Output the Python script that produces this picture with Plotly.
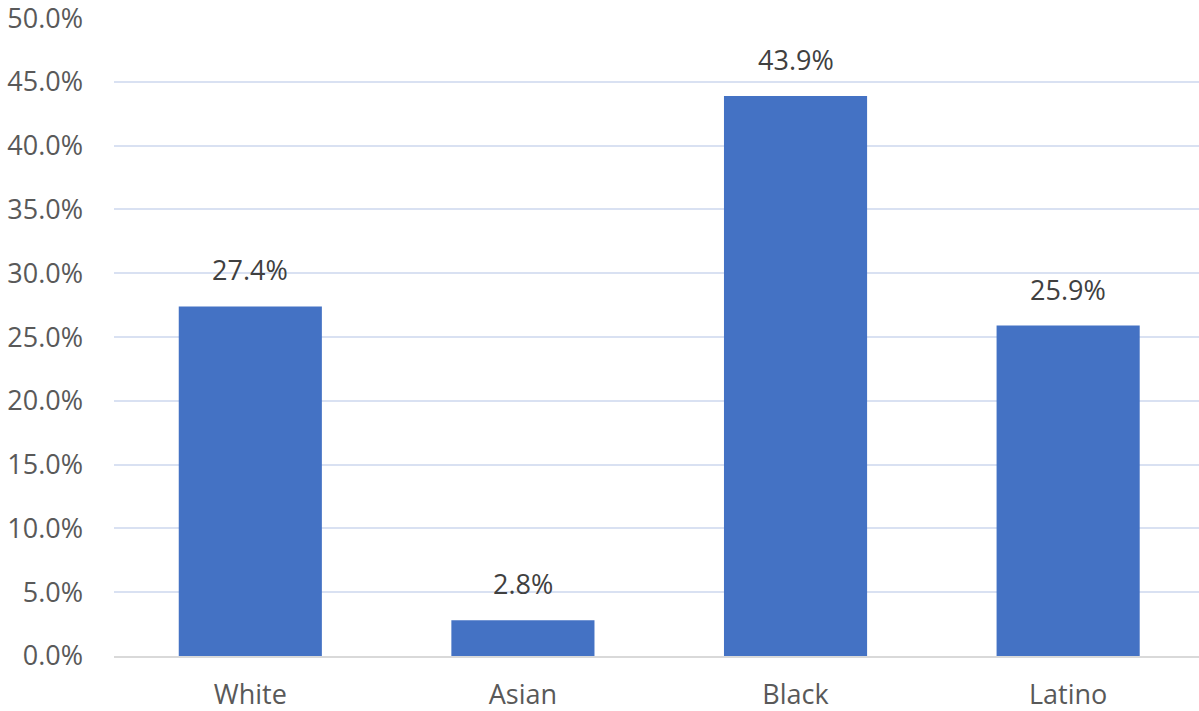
import plotly.graph_objects as go

categories = ["White", "Asian", "Black", "Latino"]
values = [27.4, 2.8, 43.9, 25.9]
y_ticks = [0, 5, 10, 15, 20, 25, 30, 35, 40, 45, 50]

FONT = "Open Sans"
FS = 27
fig = go.Figure()
fig.add_trace(go.Bar(x=categories, y=values, marker_color="#4472C4",
                     marker_line_width=0, width=0.525))
for c, v in zip(categories, values):
    fig.add_annotation(x=c, y=v, text=f"{v:.1f}%", showarrow=False,
                       yanchor="bottom", yshift=16,
                       font=dict(family=FONT, size=FS, color="#404040"))

fig.update_layout(
    width=1199, height=711,
    margin=dict(l=114, r=0, t=18, b=55),
    plot_bgcolor="white", paper_bgcolor="white",
    showlegend=False,
    font=dict(family=FONT, size=FS, color="#595959"),
)
fig.update_xaxes(range=[-0.5, 3.48], showline=True, linecolor="#d9d9d9", linewidth=2,
                 ticks="", showgrid=False, tickfont=dict(size=FS, color="#595959"),
                 ticklabelstandoff=14, automargin=False)
fig.update_yaxes(range=[0, 50.01], tickvals=y_ticks, ticktext=[f"{t:.1f}%" for t in y_ticks],
                 showgrid=True, gridcolor="#d9e1f2", gridwidth=2, zeroline=False,
                 showline=False, ticks="", ticklabelstandoff=30, automargin=False,
                 ticklabeloverflow="allow",
                 tickfont=dict(size=FS, color="#595959"))
fig.write_html("out.html", config={"displayModeBar": False},
               post_script="document.body.style.margin='0';document.body.style.overflow='hidden';")
